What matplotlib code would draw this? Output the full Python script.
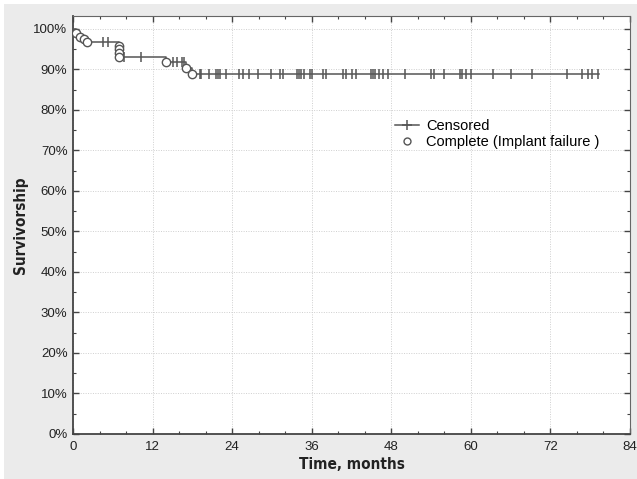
import numpy as np
import matplotlib
matplotlib.use('Agg')
import matplotlib.pyplot as plt
from matplotlib.patches import Rectangle
from matplotlib.ticker import MultipleLocator, FuncFormatter
from matplotlib.lines import Line2D

# ── Kaplan-Meier curve ────────────────────────────────────────────────────
# failure times (months) and survival level (%) just after each failure
fail_t = [0.45, 1.05, 1.65, 2.05, 7.0, 7.0, 7.0, 7.0, 14.0, 17.0, 18.0]
fail_s = [99.1, 98.1, 97.4, 96.7, 95.8, 95.0, 94.0, 93.0, 91.8, 90.3, 88.8]

# censored times (months)
cens_t = [4.5, 5.3, 7.7, 10.3, 15.1, 15.7, 16.4, 16.7,
          19.1, 19.3, 20.5, 21.5, 21.9, 22.2, 23.1, 25.1, 25.6, 26.6,
          27.9, 29.8, 31.2, 31.6, 33.8, 34.1, 34.4, 34.8, 35.8, 36.1,
          37.7, 38.1, 40.7, 41.1, 42.0, 42.7, 45.0, 45.2, 45.6, 46.2,
          46.7, 47.5, 50.1, 54.0, 54.4, 56.0, 58.3, 58.7, 59.2, 60.0,
          63.3, 66.0, 69.2, 74.5, 76.8, 77.6, 78.3, 79.2]

end_t = 79.3

line_col = '#555555'

# step function
step_t = np.concatenate([[0.0], fail_t, [end_t]])
step_s = np.concatenate([[100.0], fail_s, [fail_s[-1]]])


def level_at(t):
    idx = np.searchsorted(fail_t, t, side='right')
    return 100.0 if idx == 0 else fail_s[idx - 1]


cens_s = [level_at(t) for t in cens_t]

# ── Figure ────────────────────────────────────────────────────────────────
fig = plt.figure(figsize=(6.37, 4.79), dpi=100, facecolor='white')
fig.patches.append(Rectangle((4 / 637, 0), 633 / 637, 475 / 479,
                             transform=fig.transFigure, facecolor='#ebebeb',
                             edgecolor='none', zorder=-10))
ax = fig.add_axes([73 / 637, 1 - 434 / 479, 557 / 637, 418 / 479])
ax.set_facecolor('white')

ax.step(step_t, step_s, where='post', color=line_col, linewidth=1.1, zorder=3)
ax.plot(cens_t, cens_s, linestyle='none', marker='|', markersize=7,
        markeredgewidth=1.1, color=line_col, zorder=4)
ax.plot(fail_t, fail_s, linestyle='none', marker='o', markersize=6,
        markerfacecolor='white', markeredgecolor=line_col,
        markeredgewidth=1.0, zorder=5)

ax.set_xlim(0, 84)
ax.set_ylim(0, 103.2)
ax.xaxis.set_major_locator(MultipleLocator(12))
ax.xaxis.set_minor_locator(MultipleLocator(4))
ax.yaxis.set_major_locator(MultipleLocator(10))
ax.yaxis.set_minor_locator(MultipleLocator(5))
ax.yaxis.set_major_formatter(FuncFormatter(lambda v, p: f'{v:.0f}%'))

ax.grid(True, which='major', linestyle=(0, (1, 1.5)), color='#cfcfcf',
        linewidth=0.7, zorder=0)
ax.tick_params(which='both', direction='in', top=True, right=True,
               color='#444444', labelsize=9.5, labelcolor='#222222')
ax.tick_params(which='major', length=4, width=1.0)
ax.tick_params(which='minor', length=2.5, width=0.8)
ax.tick_params(axis='y', pad=4)
ax.tick_params(axis='x', pad=5)
for lab in ax.get_xticklabels() + ax.get_yticklabels():
    lab.set_family('Liberation Sans')

for side in ['left', 'bottom']:
    ax.spines[side].set_color('#444444')
    ax.spines[side].set_linewidth(1.3)
for side in ['top', 'right']:
    ax.spines[side].set_color('#666666')
    ax.spines[side].set_linewidth(0.8)

lab_font = dict(family='DejaVu Sans', stretch='condensed',
                weight='bold', size=11, color='#222222')
ax.set_xlabel('Time, months', labelpad=3, **lab_font)
ax.set_ylabel('Survivorship', labelpad=4, **lab_font)

handles = [Line2D([], [], color=line_col, linewidth=1.1, marker='+',
                  markersize=7, markeredgewidth=1.1),
           Line2D([], [], linestyle='none', marker='o', markersize=5,
                  markerfacecolor='white', markeredgecolor=line_col)]
leg = ax.legend(handles, ['Censored', 'Complete (Implant failure )'],
                loc='upper left', bbox_to_anchor=(0.555, 0.785), frameon=False,
                handlelength=1.6, handletextpad=0.5, labelspacing=0.15,
                prop={'family': 'Liberation Sans', 'size': 10.5})

fig.savefig('out.png', dpi=100, facecolor=fig.get_facecolor())
